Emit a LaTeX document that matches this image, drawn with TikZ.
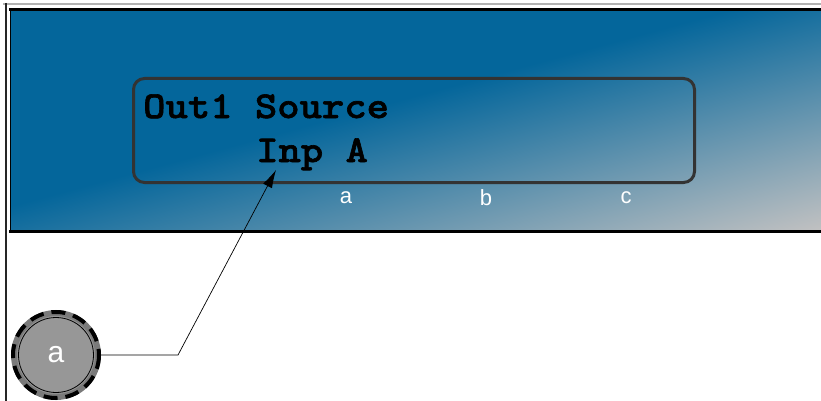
\documentclass[tikz,border=0pt]{standalone}
\usepackage{fontspec}
\setmainfont{Liberation Sans}
\newfontfamily\monob{lmmonolt10-bold.otf}[FakeStretch=1.12, FakeBold=1.6]
\usetikzlibrary{arrows.meta}
\definecolor{pA}{HTML}{04669B}
\definecolor{pB}{HTML}{BFC0C1}
\definecolor{ringgray}{HTML}{7A7A7A}
\definecolor{fillgray}{HTML}{979797}
\definecolor{boxline}{HTML}{333333}
\pgfdeclarehorizontalshading{panelsh}{100bp}{color(0bp)=(pA); color(46bp)=(pA); color(85bp)=(pB); color(100bp)=(pB)}
\tikzset{
  lcdtext/.style={font=\monob\fontsize{38}{40}\selectfont, text=black, inner sep=0pt, anchor=base west},
  collabel/.style={font=\fontsize{22}{24}\selectfont, text=white, inner sep=0pt},
  conn/.style={draw=black, line width=0.7pt, -{Latex[length=18pt,width=10pt]}},
}
\begin{document}
\begin{tikzpicture}[x=1pt,y=-1pt]
\useasboundingbox (0,0) rectangle (821,401);
% panel gradient (stretched square so the diagonal runs corner to corner)
\begin{scope}[transform canvas={shift={(10pt,-231pt)}, xscale=8.11, yscale=2.21}]
  \shade[shading=panelsh, shading angle=-45] (0,0) rectangle (100,-100);
\end{scope}
% frame
\draw[line width=2pt, draw=gray!60] (3,4) -- (821,4);
\draw[line width=2pt, draw=black!85] (6,3) -- (6,401);
\draw[line width=3pt] (9,9.5) -- (821,9.5);
\draw[line width=3pt] (9,231) -- (821,231);
\draw[line width=1pt] (10,9) -- (10,231);
% lcd box
\node[draw=boxline, line width=3pt, rounded corners=11pt, minimum width=561pt, minimum height=104pt, anchor=north west] (box) at (132,77) {};
\node[lcdtext] (l1) at (143,118) {Out1 Source};
\node[lcdtext] (l2) at (256,162) {Inp A};
% column labels
\node[collabel] (la) at (346,198) {a};
\node[collabel] (lb) at (486,198) {b};
\node[collabel] (lc) at (626,198) {c};
% circle
\node[circle, fill=fillgray, draw=ringgray, line width=6pt, minimum size=84pt, inner sep=0pt] (ca) at (56,355) {};
\draw[black, line width=4pt, dash pattern=on 14pt off 8pt] (ca.center) circle[radius=43];
\draw[black, line width=0.8pt] (ca.center) circle[radius=37.5];
\node[font=\fontsize{30}{30}\selectfont, text=white] at (ca.center) {a};
% connector
\coordinate (bend) at (178,355);
\coordinate (tip) at (276,170);
\draw[conn] (ca.east) -- (bend) -- (tip);
\end{tikzpicture}
\end{document}
